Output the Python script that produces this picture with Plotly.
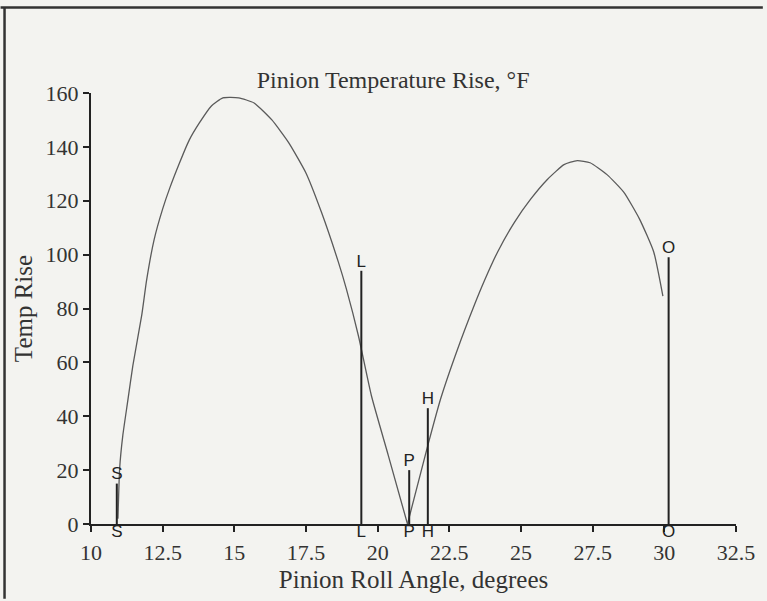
import plotly.graph_objects as go

# ---- data ----
roll_angle = [10.94, 11.0, 11.11, 11.28, 11.46, 11.77, 11.94, 12.2, 12.5, 12.74,
              13.09, 13.43, 13.78, 14.2, 14.6, 15.15, 15.69, 16.31, 16.9, 17.49,
              18.04, 18.63, 18.91, 19.33, 19.78, 20.37, 21.04, 21.75, 22.2, 22.79,
              23.38, 23.73, 24.18, 24.77, 25.33, 25.92, 26.5, 26.96, 27.41, 28.0,
              28.59, 29.14, 29.63, 29.95]
temp_rise = [2, 20.7, 32.9, 45.5, 58.8, 77.5, 90.5, 105.5, 117, 124.5,
             134.1, 142.6, 148.9, 155.2, 158.2, 158.2, 156.3, 150, 141.5, 130.5,
             115.7, 97.2, 87.2, 69.8, 47.7, 25.5, 0, 29.2, 46.6, 65,
             81.5, 90.5, 100.9, 112, 120.5, 127.9, 133.4, 134.9, 134.1, 129.7,
             123.1, 113.1, 101, 84.6]

marker_labels = ["S", "L", "P", "H", "O"]
marker_angle = [10.9, 19.43, 21.1, 21.75, 30.15]
marker_height = [15, 94, 20, 43, 99]

x_ticks = [10, 12.5, 15, 17.5, 20, 22.5, 25, 27.5, 30, 32.5]
x_tick_labels = ["10", "12.5", "15", "17.5", "20", "22.5", "25", "27.5", "30", "32.5"]
y_ticks = [0, 20, 40, 60, 80, 100, 120, 140, 160]

# ---- layout geometry ----
W, H = 767, 601
ML, MR, MT, MB = 91, 27, 93, 75
PW, PH = W - ML - MR, H - MT - MB


def px_to_paper_x(px):
    return (px - ML) / PW


def px_to_paper_y(py):
    return (H - MB - py) / PH


SERIF = "Liberation Serif, Times New Roman, serif"
SANS = "Liberation Sans, Arial, sans-serif"
INK = "#222222"
BG = "#f3f3f0"

fig = go.Figure()

# the curve has a cusp at its minimum: draw the two humps as smooth pieces
split = temp_rise.index(min(temp_rise))
for lo, hi in [(0, split + 1), (split, len(roll_angle))]:
    fig.add_trace(go.Scatter(
        x=roll_angle[lo:hi], y=temp_rise[lo:hi], mode="lines",
        line=dict(color="#5a5a5a", width=1.3, shape="spline", smoothing=0.5),
        showlegend=False, hoverinfo="skip", cliponaxis=False,
    ))

for lab, xa, ht in zip(marker_labels, marker_angle, marker_height):
    fig.add_trace(go.Scatter(
        x=[xa, xa], y=[0, ht], mode="lines+text",
        text=[lab, lab], textposition=["bottom center", "top center"],
        textfont=dict(family=SANS, size=17, color=INK),
        line=dict(color=INK, width=2),
        showlegend=False, hoverinfo="skip", cliponaxis=False,
    ))

# frame lines of the scanned page
shapes = [
    dict(type="line", xref="paper", yref="paper",
         x0=px_to_paper_x(0), x1=px_to_paper_x(W), y0=px_to_paper_y(7), y1=px_to_paper_y(7),
         line=dict(color="#333333", width=2.5)),
    dict(type="line", xref="paper", yref="paper",
         x0=px_to_paper_x(4), x1=px_to_paper_x(4), y0=px_to_paper_y(7), y1=px_to_paper_y(H),
         line=dict(color="#333333", width=2.5)),
]

fig.update_layout(
    width=W, height=H, autosize=False,
    margin=dict(l=ML, r=MR, t=MT, b=MB),
    paper_bgcolor=BG, plot_bgcolor=BG,
    font=dict(family=SERIF, size=22, color="#333333"),
    title=dict(text="Pinion Temperature Rise, °F", font=dict(family=SERIF, size=24, color="#333333"),
               xref="paper", x=px_to_paper_x(395), xanchor="center",
               yref="container", y=1 - 80 / H, yanchor="middle"),
    shapes=shapes,
    xaxis=dict(range=[10, 32.5], tickvals=x_ticks, ticktext=x_tick_labels,
               showline=True, linecolor=INK, linewidth=2, ticks="outside", ticklen=6,
               tickwidth=1.5, tickcolor=INK, showgrid=False, zeroline=False,
               ticklabelstandoff=2,
               title=dict(text="Pinion Roll Angle, degrees", font=dict(family=SERIF, size=25),
                          standoff=6)),
    yaxis=dict(range=[0, 160], tickvals=y_ticks,
               showline=True, linecolor=INK, linewidth=2, ticks="outside", ticklen=6,
               tickwidth=1.5, tickcolor=INK, showgrid=False, zeroline=False,
               title=dict(text="Temp Rise", font=dict(family=SERIF, size=25), standoff=6)),
)

fig.write_html("out.html", config={"displayModeBar": False},
               post_script="document.body.style.margin='0';")
